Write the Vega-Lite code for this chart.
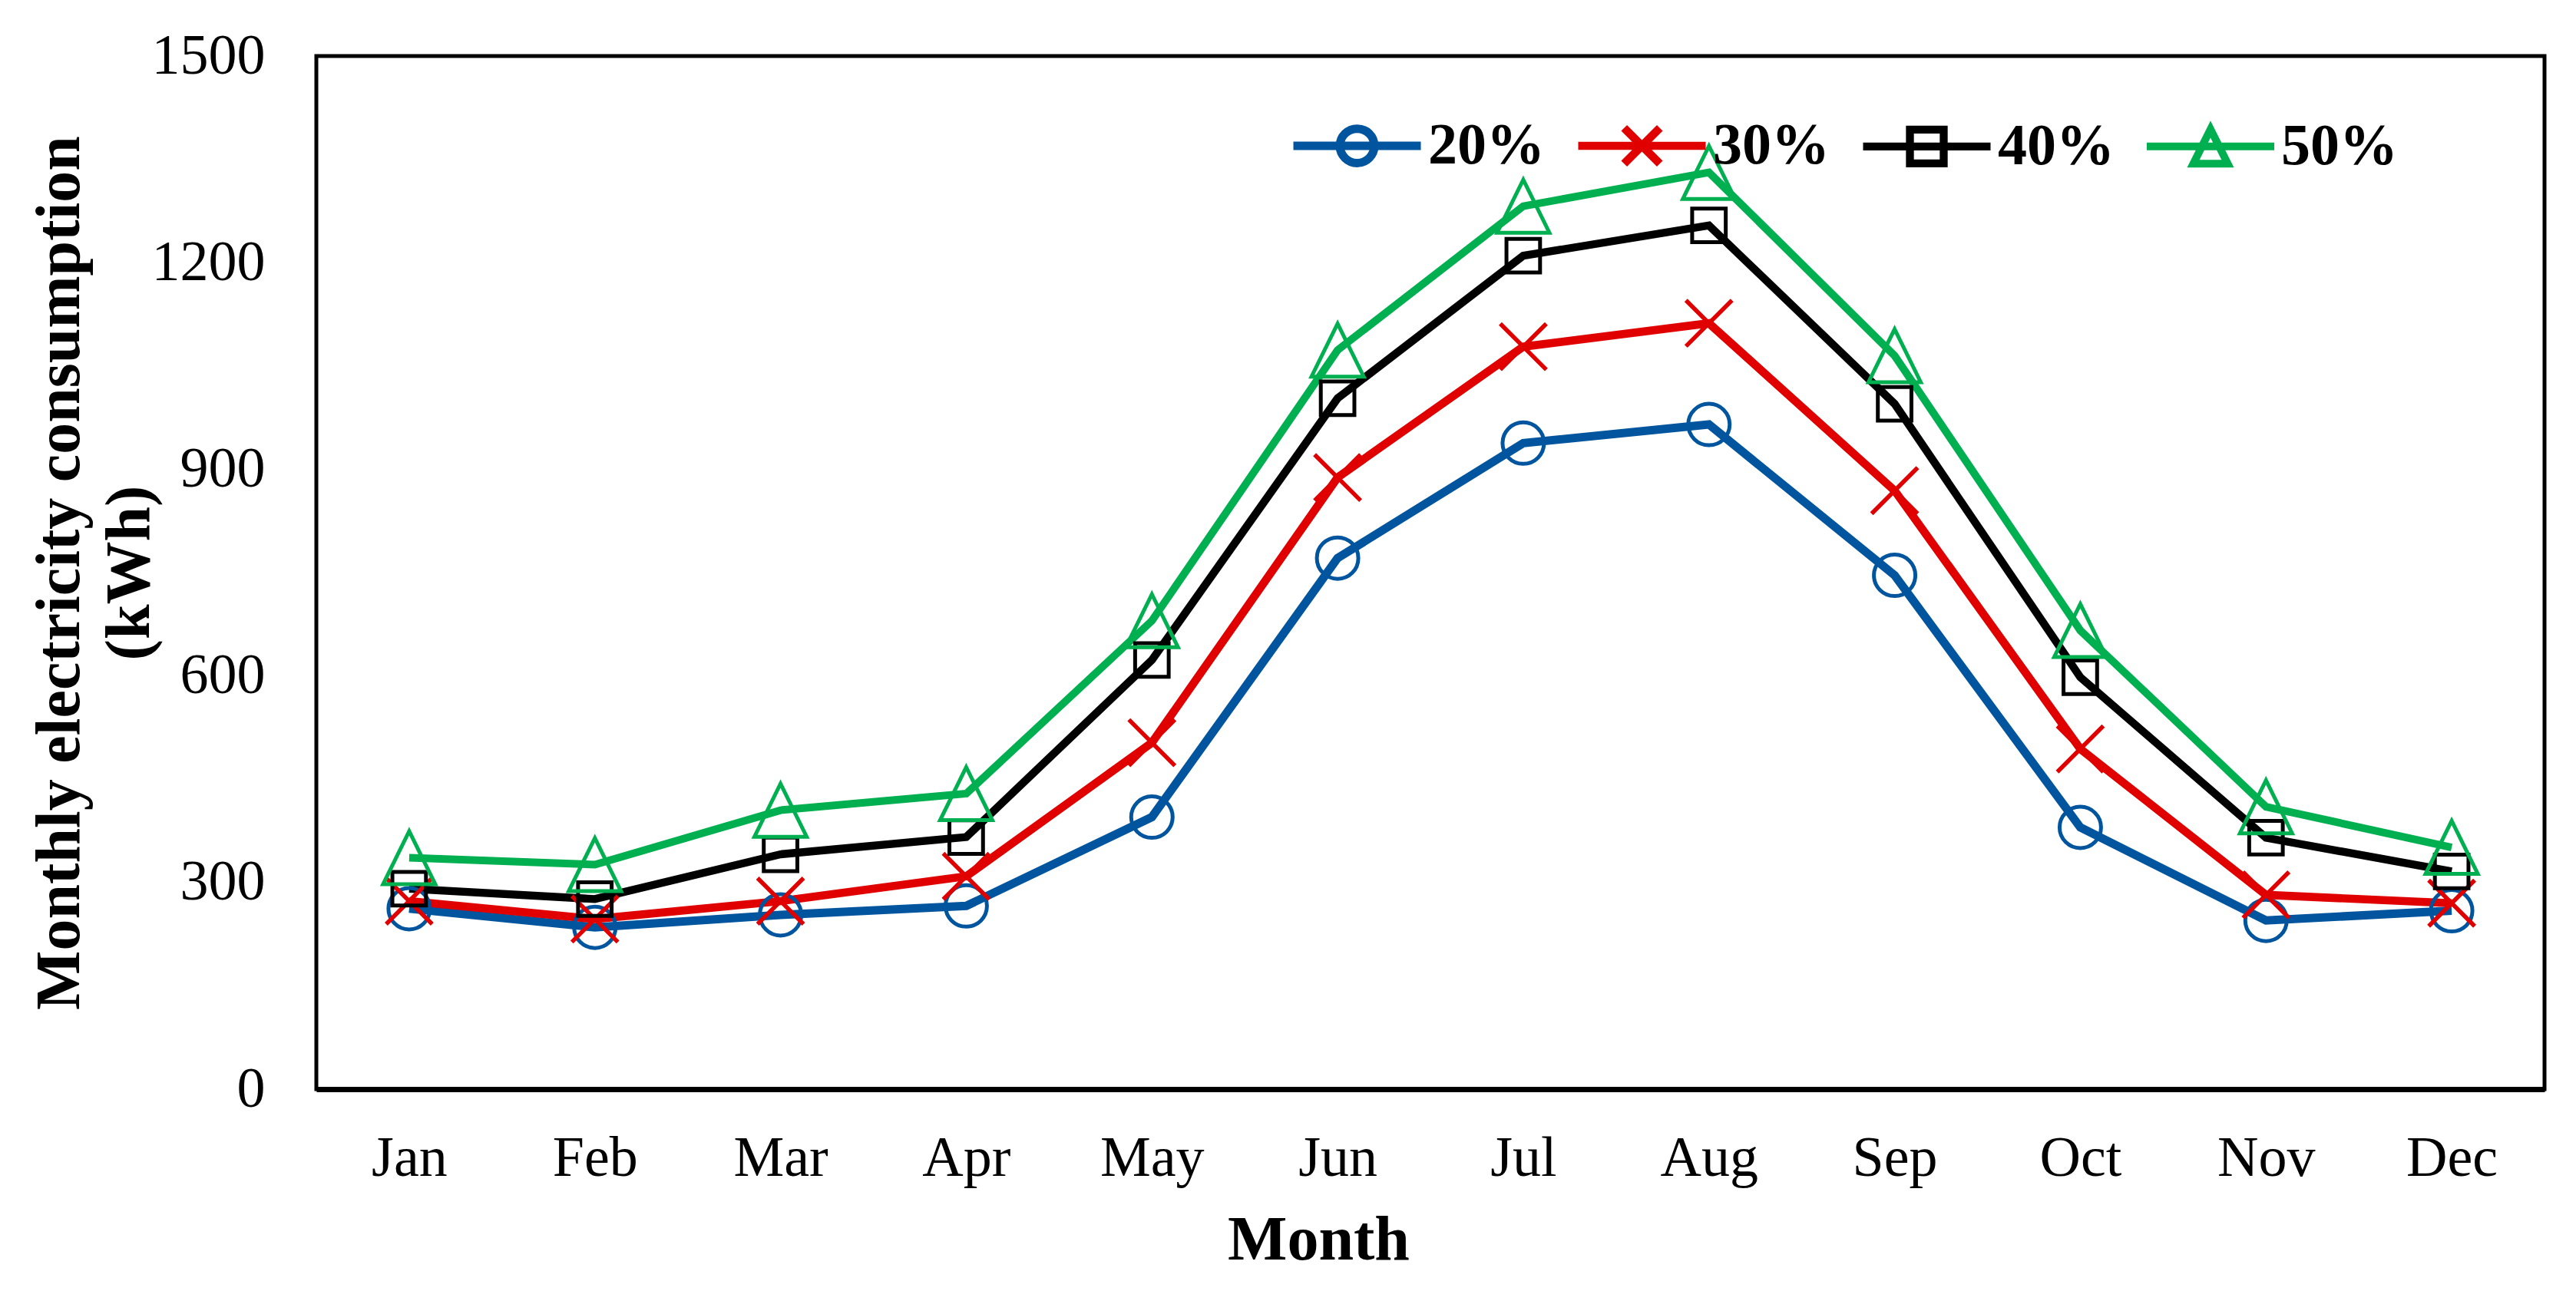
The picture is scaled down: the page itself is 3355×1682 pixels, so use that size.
{
  "$schema": "https://vega.github.io/schema/vega-lite/v6.json",
  "width": 2902,
  "height": 1346,
  "autosize": {"type": "none"},
  "padding": {"left": 412, "top": 73, "right": 41, "bottom": 263},
  "background": "white",
  "config": {
    "view": {"stroke": "black", "strokeWidth": 5},
    "axis": {
      "grid": false,
      "ticks": false,
      "tickSize": 0,
      "labelFont": "Liberation Serif",
      "labelFontSize": 74,
      "labelColor": "black",
      "titleFont": "Liberation Serif",
      "titleFontSize": 82,
      "titleFontWeight": "bold",
      "titleColor": "black"
    },
    "legend": {
      "title": null,
      "orient": "none",
      "direction": "horizontal",
      "labelFont": "Liberation Serif",
      "labelFontSize": 76,
      "labelFontWeight": "bold",
      "labelColor": "black",
      "symbolSize": 27556,
      "labelOffset": 4,
      "columnPadding": 22,
      "padding": 0,
      "labelLimit": 400,
      "symbolOpacity": 1
    }
  },
  "data": {
    "values": [
      {"month": "Jan", "series": "20%", "value": 262},
      {"month": "Feb", "series": "20%", "value": 235},
      {"month": "Mar", "series": "20%", "value": 253},
      {"month": "Apr", "series": "20%", "value": 266},
      {"month": "May", "series": "20%", "value": 395},
      {"month": "Jun", "series": "20%", "value": 771},
      {"month": "Jul", "series": "20%", "value": 938},
      {"month": "Aug", "series": "20%", "value": 965},
      {"month": "Sep", "series": "20%", "value": 746},
      {"month": "Oct", "series": "20%", "value": 380},
      {"month": "Nov", "series": "20%", "value": 245},
      {"month": "Dec", "series": "20%", "value": 259},
      {"month": "Jan", "series": "30%", "value": 273},
      {"month": "Feb", "series": "30%", "value": 247},
      {"month": "Mar", "series": "30%", "value": 273},
      {"month": "Apr", "series": "30%", "value": 309},
      {"month": "May", "series": "30%", "value": 503},
      {"month": "Jun", "series": "30%", "value": 888},
      {"month": "Jul", "series": "30%", "value": 1078},
      {"month": "Aug", "series": "30%", "value": 1112},
      {"month": "Sep", "series": "30%", "value": 869},
      {"month": "Oct", "series": "30%", "value": 494},
      {"month": "Nov", "series": "30%", "value": 282},
      {"month": "Dec", "series": "30%", "value": 270},
      {"month": "Jan", "series": "40%", "value": 291},
      {"month": "Feb", "series": "40%", "value": 276},
      {"month": "Mar", "series": "40%", "value": 341},
      {"month": "Apr", "series": "40%", "value": 366},
      {"month": "May", "series": "40%", "value": 623},
      {"month": "Jun", "series": "40%", "value": 1003},
      {"month": "Jul", "series": "40%", "value": 1210},
      {"month": "Aug", "series": "40%", "value": 1254},
      {"month": "Sep", "series": "40%", "value": 995},
      {"month": "Oct", "series": "40%", "value": 598},
      {"month": "Nov", "series": "40%", "value": 365},
      {"month": "Dec", "series": "40%", "value": 316},
      {"month": "Jan", "series": "50%", "value": 336},
      {"month": "Feb", "series": "50%", "value": 326},
      {"month": "Mar", "series": "50%", "value": 405},
      {"month": "Apr", "series": "50%", "value": 429},
      {"month": "May", "series": "50%", "value": 680},
      {"month": "Jun", "series": "50%", "value": 1073},
      {"month": "Jul", "series": "50%", "value": 1282},
      {"month": "Aug", "series": "50%", "value": 1331},
      {"month": "Sep", "series": "50%", "value": 1065},
      {"month": "Oct", "series": "50%", "value": 666},
      {"month": "Nov", "series": "50%", "value": 410},
      {"month": "Dec", "series": "50%", "value": 351}
    ]
  },
  "encoding": {
    "x": {
      "field": "month",
      "type": "ordinal",
      "sort": ["Jan", "Feb", "Mar", "Apr", "May", "Jun", "Jul", "Aug", "Sep", "Oct", "Nov", "Dec"],
      "scale": {"type": "point", "padding": 0.5},
      "axis": {
        "title": "Month",
        "labelAngle": 0,
        "labelPadding": 112,
        "labelBaseline": "alphabetic",
        "domain": true,
        "domainColor": "black",
        "domainWidth": 7,
        "titleX": 1305,
        "titleY": 221,
        "titleAlign": "center",
        "titleBaseline": "alphabetic"
      }
    },
    "y": {
      "field": "value",
      "type": "quantitative",
      "scale": {"domain": [0, 1500]},
      "axis": {
        "title": ["Monthly electricity consumption", "(kWh)"],
        "values": [0, 300, 600, 900, 1200, 1500],
        "format": "d",
        "domain": false,
        "labelPadding": 67,
        "titleX": -310,
        "titleY": 673,
        "titleAngle": -90,
        "titleAlign": "center",
        "titleBaseline": "alphabetic",
        "titleLineHeight": 91
      }
    }
  },
  "layer": [
    {
      "transform": [{"filter": "false"}],
      "mark": {"type": "point", "filled": false, "opacity": 1},
      "encoding": {
        "color": {
          "field": "series",
          "type": "nominal",
          "scale": {"domain": ["20%", "30%", "40%", "50%"], "range": ["#00559E", "#E00000", "#000000", "#00B050"]},
          "legend": {"title": null, "orient": "none", "legendX": 1267, "legendY": 28, "direction": "horizontal"}
        },
        "shape": {
          "field": "series",
          "type": "nominal",
          "scale": {
            "domain": ["20%", "30%", "40%", "50%"],
            "range": [
              "M-1,0H1M0.27,0A0.27,0.27 0 1,1 -0.27,0A0.27,0.27 0 1,1 0.27,0Z",
              "M-1,0H1M-0.28,-0.28L0.28,0.28M-0.28,0.28L0.28,-0.28",
              "M-1,0H1M-0.265,-0.265H0.265V0.265H-0.265Z",
              "M-1,0H1M0,-0.27L0.27,0.27H-0.27Z"
            ]
          },
          "legend": {"title": null, "orient": "none", "legendX": 1267, "legendY": 28, "direction": "horizontal"}
        },
        "strokeWidth": {
          "field": "series",
          "type": "ordinal",
          "scale": {"domain": ["20%", "30%", "40%", "50%"], "range": [11, 10, 7, 5.5]},
          "legend": {"title": null, "orient": "none", "legendX": 1267, "legendY": 28, "direction": "horizontal"}
        }
      }
    },
    {
      "mark": {"type": "line"},
      "encoding": {
        "color": {
          "field": "series",
          "type": "nominal",
          "scale": {"domain": ["20%", "30%", "40%", "50%"], "range": ["#00559E", "#E00000", "#000000", "#00B050"]}
        },
        "strokeWidth": {
          "field": "series",
          "type": "ordinal",
          "scale": {"domain": ["20%", "30%", "40%", "50%"], "range": [11, 10, 7, 5.5]}
        }
      }
    },
    {
      "transform": [{"filter": "datum.series === '20%'"}],
      "mark": {"type": "point", "shape": "circle", "size": 2916, "color": "#00559E", "filled": false, "strokeWidth": 5, "opacity": 1}
    },
    {
      "transform": [{"filter": "datum.series === '30%'"}],
      "mark": {"type": "point", "shape": "M-1.11,-1.11L1.11,1.11M-1.11,1.11L1.11,-1.11", "size": 2916, "color": "#E00000", "filled": false, "strokeWidth": 5.5, "opacity": 1}
    },
    {
      "transform": [{"filter": "datum.series === '40%'"}],
      "mark": {"type": "point", "shape": "M-0.81,-0.81H0.81V0.81H-0.81Z", "size": 2916, "color": "#000000", "filled": false, "strokeWidth": 5, "opacity": 1}
    },
    {
      "transform": [{"filter": "datum.series === '50%'"}],
      "mark": {"type": "point", "shape": "M0,-1.28L1.26,1.28H-1.26Z", "size": 2916, "color": "#00B050", "filled": false, "strokeWidth": 5, "opacity": 1}
    }
  ]
}
